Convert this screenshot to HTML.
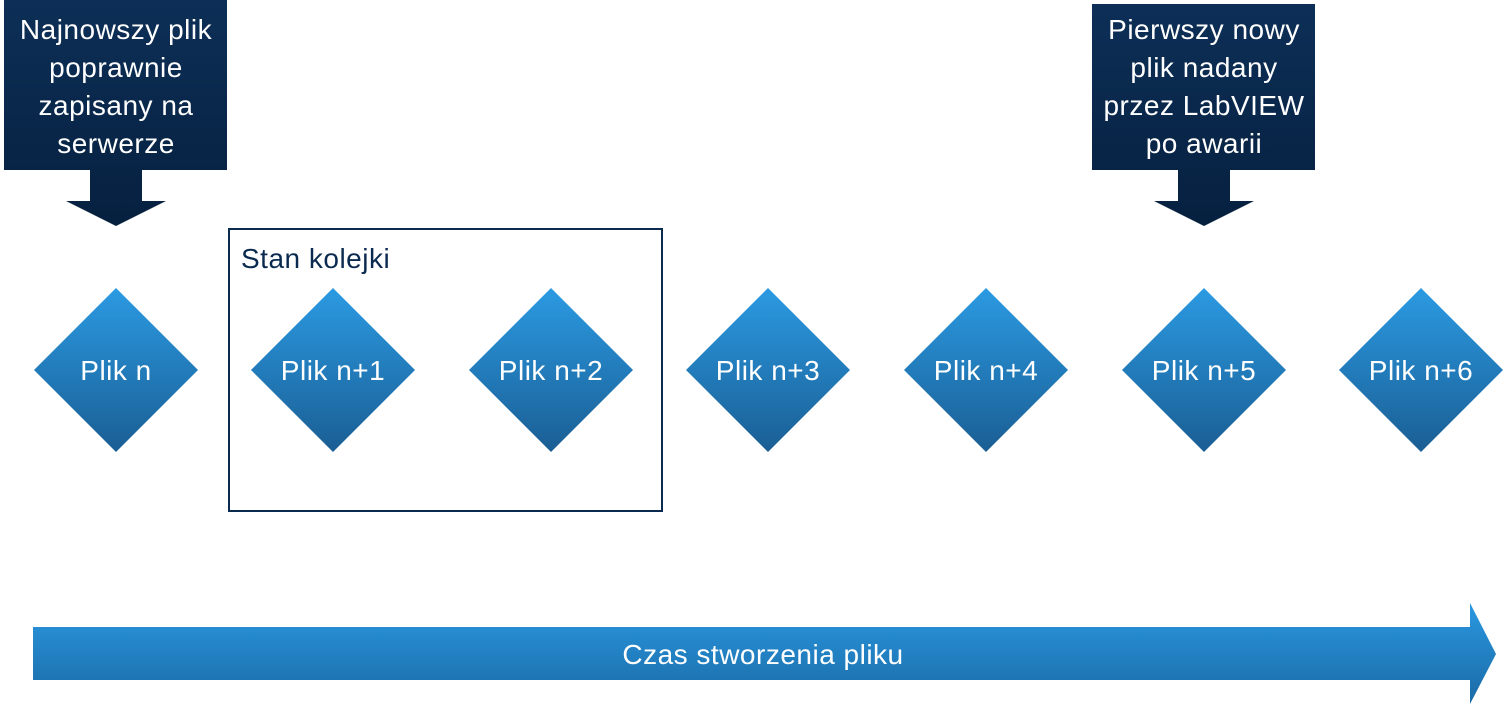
<!DOCTYPE html>
<html><head><meta charset="utf-8"><style>
body{margin:0;width:1509px;height:712px;background:#fff;overflow:hidden;font-family:"Liberation Sans",sans-serif}
</style></head><body>
<svg width="1509" height="712" viewBox="0 0 1509 712" xmlns="http://www.w3.org/2000/svg">
<defs>
<linearGradient id="d" x1="0" y1="0" x2="0" y2="1"><stop offset="0" stop-color="#2b9ae2"/><stop offset="1" stop-color="#1a5e94"/></linearGradient>
<linearGradient id="n" x1="0" y1="0" x2="0" y2="1"><stop offset="0" stop-color="#0d2f57"/><stop offset="1" stop-color="#06203f"/></linearGradient>
<linearGradient id="a" x1="0" y1="0" x2="0" y2="1"><stop offset="0" stop-color="#2a98e0"/><stop offset="1" stop-color="#1a6aa6"/></linearGradient>
</defs>
<polygon fill="url(#n)" points="4,0 227,0 227,170 142,170 142,201 166,201 116,226 66,201 90,201 90,170 4,170"/>
<polygon fill="url(#n)" points="1092,4 1315,4 1315,170 1230,170 1230,201 1254,201 1204,226 1154,201 1178,201 1178,170 1092,170"/>
<g fill="#fff" font-size="28" letter-spacing="0.5" text-anchor="middle">
<text x="116" y="39">Najnowszy plik</text><text x="116" y="77">poprawnie</text><text x="116" y="115">zapisany na</text><text x="116" y="153">serwerze</text>
<text x="1204" y="39">Pierwszy nowy</text><text x="1204" y="77">plik nadany</text><text x="1204" y="115">przez LabVIEW</text><text x="1204" y="153">po awarii</text>
</g>
<rect x="229" y="229" width="433" height="282" fill="none" stroke="#0b2a4f" stroke-width="2"/>
<text x="241" y="268" font-size="28" letter-spacing="0.5" fill="#0b2a4f">Stan kolejki</text>
<g fill="url(#d)">
<polygon points="116,288 198,370 116,452 34,370"/>
<polygon points="333,288 415,370 333,452 251,370"/>
<polygon points="551,288 633,370 551,452 469,370"/>
<polygon points="768,288 850,370 768,452 686,370"/>
<polygon points="986,288 1068,370 986,452 904,370"/>
<polygon points="1204,288 1286,370 1204,452 1122,370"/>
<polygon points="1421,288 1503,370 1421,452 1339,370"/>
</g>
<g fill="#fff" font-size="28" letter-spacing="0.5" text-anchor="middle">
<text x="116" y="380">Plik n</text><text x="333" y="380">Plik n+1</text><text x="551" y="380">Plik n+2</text><text x="768" y="380">Plik n+3</text><text x="986" y="380">Plik n+4</text><text x="1204" y="380">Plik n+5</text><text x="1421" y="380">Plik n+6</text>
</g>
<polygon fill="url(#a)" points="33,627 1470,627 1470,603 1496,654 1470,704 1470,680 33,680"/>
<text x="763" y="664" font-size="28" letter-spacing="0.5" fill="#fff" text-anchor="middle">Czas stworzenia pliku</text>
</svg>
</body></html>
